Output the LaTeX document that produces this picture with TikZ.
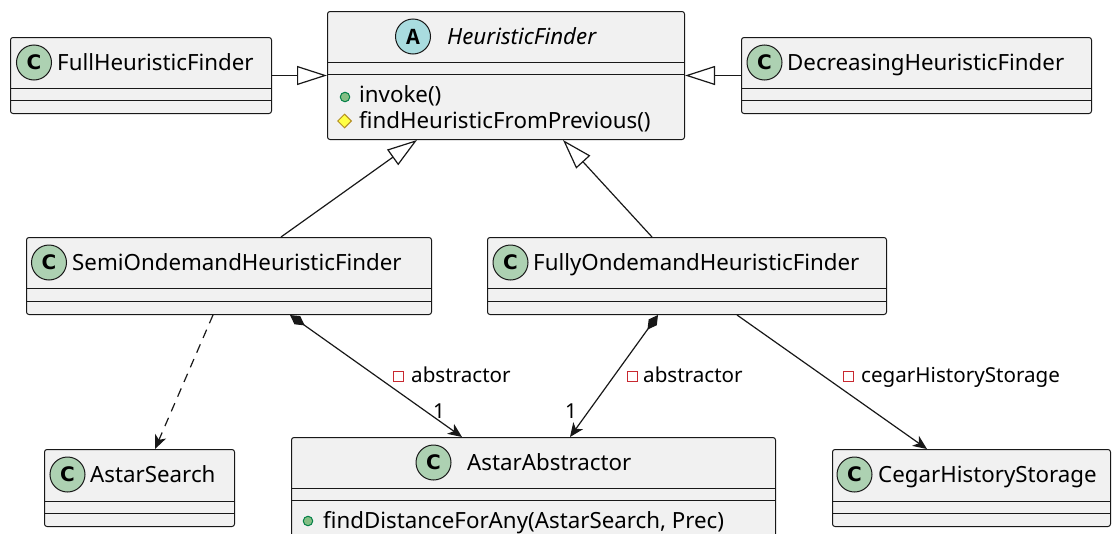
\documentclass[tikz,border=0pt]{standalone}
\usepackage{fontspec}
\setmainfont{Noto Sans}
\newfontfamily\iconfont{DejaVu Sans}
\newfontfamily\abstractfont{Liberation Mono}
\usetikzlibrary{arrows.meta,calc,shapes.geometric}

\definecolor{boxfill}{HTML}{F1F1F1}
\definecolor{boxline}{HTML}{181818}
\definecolor{classic}{HTML}{ADD1B2}
\definecolor{abstractic}{HTML}{A9DCDF}
\definecolor{pubfill}{HTML}{84BE84}
\definecolor{publine}{HTML}{038048}
\definecolor{protfill}{HTML}{FFFF44}
\definecolor{protline}{HTML}{B38D22}
\definecolor{privline}{HTML}{C82930}

\tikzset{
  classbox/.style={draw=boxline, fill=boxfill, line width=1pt, rounded corners=2.5pt,
    anchor=north west, inner sep=0pt},
  sepline/.style={draw=boxline, line width=1pt},
  kindicon/.style={circle, draw=boxline, line width=1pt, minimum size=35pt, inner sep=0pt},
  classicon/.style={kindicon, fill=classic, font=\iconfont\bfseries\fontsize{20}{20}\selectfont},
  abstracticon/.style={kindicon, fill=abstractic, font=\abstractfont\bfseries\fontsize{23}{23}\selectfont},
  title/.style={anchor=base west, inner sep=0pt, font=\fontsize{22.3}{26}\selectfont},
  member/.style={anchor=base west, inner sep=0pt, font=\fontsize{22.3}{26}\selectfont},
  rolelabel/.style={anchor=base west, inner sep=0pt, font=\fontsize{20.6}{24}\selectfont},
  pubicon/.style={circle, draw=publine, fill=pubfill, line width=1pt, minimum size=9.5pt, inner sep=0pt},
  proticon/.style={diamond, aspect=1, draw=protline, fill=protfill, line width=1pt, minimum size=14pt, inner sep=0pt},
  privicon/.style={rectangle, draw=privline, fill=white, line width=1pt, minimum size=10pt, inner sep=0pt},
  link/.style={draw=boxline, line width=1.2pt},
  extends/.style={link, -{Triangle[length=30pt, width=19pt, fill=white]}},
  uses/.style={link, dash pattern=on 9pt off 7pt, -{Stealth[length=14pt, width=12pt, inset=4pt]}},
  owns/.style={link, {Diamond[length=18pt, width=10pt]}-{Stealth[length=14pt, width=12pt, inset=4pt]}},
  assoc/.style={link, -{Stealth[length=14pt, width=12pt, inset=4pt]}}
}

\begin{document}
\begin{tikzpicture}[x=1pt, y=-1pt]
\useasboundingbox (0,0) rectangle (1114,533);
\clip (0,0) rectangle (1114,533);

% ---------- class boxes ----------
\node[classbox, minimum width=261pt, minimum height=76pt] (full) at (10,37) {};
\node[classbox, minimum width=357pt, minimum height=128pt] (hf) at (327,11) {};
\node[classbox, minimum width=350pt, minimum height=76pt] (dec) at (741,37) {};
\node[classbox, minimum width=405pt, minimum height=77pt] (semi) at (26,237) {};
\node[classbox, minimum width=399pt, minimum height=77pt] (fully) at (487,237) {};
\node[classbox, minimum width=190pt, minimum height=77pt] (search) at (44,449) {};
\node[classbox, minimum width=484pt, minimum height=110pt] (abs) at (291,437) {};
\node[classbox, minimum width=278pt, minimum height=77pt] (cegar) at (832,449) {};

% ---------- compartment separators ----------
\draw[sepline] (10,88) -- (271,88)  (10,100) -- (271,100);
\draw[sepline] (327,62) -- (684,62)  (327,74) -- (684,74);
\draw[sepline] (741,88) -- (1091,88)  (741,100) -- (1091,100);
\draw[sepline] (26,288) -- (431,288)  (26,301) -- (431,301);
\draw[sepline] (487,288) -- (886,288)  (487,301) -- (886,301);
\draw[sepline] (44,501) -- (234,501)  (44,513) -- (234,513);
\draw[sepline] (291,488) -- (775,488)  (291,500) -- (775,500);
\draw[sepline] (832,501) -- (1110,501)  (832,513) -- (1110,513);

% ---------- headers ----------
\node[classicon] (fullC) at (34,62.5) {C};
\node[title] (fullT) at (57,70) {FullHeuristicFinder};

\node[abstracticon] (hfA) at (413,36.5) {A};
\node[title, font=\itshape\fontsize{22.3}{26}\selectfont] (hfT) at (447,44) {HeuristicFinder};

\node[classicon] (decC) at (764.5,62.5) {C};
\node[title] (decT) at (787,70) {DecreasingHeuristicFinder};

\node[classicon] (semiC) at (49,262.5) {C};
\node[title] (semiT) at (72,270) {SemiOndemandHeuristicFinder};

\node[classicon] (fullyC) at (510.5,262.5) {C};
\node[title] (fullyT) at (533,270) {FullyOndemandHeuristicFinder};

\node[classicon] (searchC) at (67.5,474.5) {C};
\node[title] (searchT) at (90,482) {AstarSearch};

\node[classicon] (absC) at (433.5,462.5) {C};
\node[title] (absT) at (467,470) {AstarAbstractor};

\node[classicon] (cegarC) at (854.5,474.5) {C};
\node[title] (cegarT) at (878,482) {CegarHistoryStorage};

% ---------- members ----------
\node[pubicon] (invokeI) at (345,97) {};
\node[member] (invokeT) at (359,102) {invoke()};
\node[proticon] (findI) at (344.5,121) {};
\node[member] (findT) at (359,128) {findHeuristicFromPrevious()};

\node[pubicon] (distI) at (308,521) {};
\node[member] (distT) at (323,528) {findDistanceForAny(AstarSearch, Prec)};

% ---------- relations ----------
\draw[extends] (full.east) -- (hf.west);
\draw[extends] (dec.west) -- (hf.east);
\draw[extends] ($(semi.north west)+(255,0)$) -- ($(hf.south west)+(90,0)$);
\draw[extends] ($(fully.north west)+(165,0)$) -- ($(hf.south west)+(236,0)$);

\draw[uses] ($(semi.south west)+(187,0)$) -- ($(search.north west)+(111,0)$);
\draw[owns] ($(semi.south west)+(264,0)$) -- ($(abs.north west)+(171,0)$);
\draw[owns] ($(fully.south west)+(171,0)$) -- ($(abs.north west)+(279,0)$);
\draw[assoc] ($(fully.south west)+(250,0)$) -- ($(cegar.north west)+(95,0)$);

% ---------- role labels ----------
\node[privicon] (role1I) at (398.5,376.5) {};
\node[rolelabel] (role1T) at (411,382) {abstractor};
\node[rolelabel] (mult1) at (433,418) {1};

\node[privicon] (role2I) at (632,376.5) {};
\node[rolelabel] (role2T) at (643,382) {abstractor};
\node[rolelabel] (mult2) at (565,418) {1};

\node[privicon] (role3I) at (848.5,376.5) {};
\node[rolelabel] (role3T) at (861,382) {cegarHistoryStorage};
\end{tikzpicture}
\end{document}
